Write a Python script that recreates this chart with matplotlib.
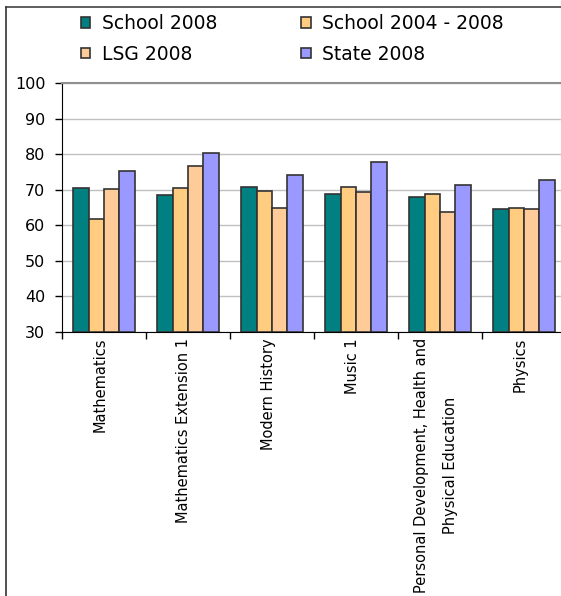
import matplotlib
matplotlib.use("Agg")
import matplotlib.pyplot as plt
import matplotlib.transforms as mtransforms
import numpy as np
from matplotlib.patches import Patch
from matplotlib.lines import Line2D

categories = ["Mathematics", "Mathematics Extension 1", "Modern History", "Music 1",
              "Personal Development, Health and\nPhysical Education", "Physics"]
series_names = ["School 2008", "School 2004 - 2008", "LSG 2008", "State 2008"]
school_2008 = [70.6, 68.4, 70.9, 68.8, 67.9, 64.5]
school_2004_2008 = [61.8, 70.6, 69.6, 70.9, 68.8, 64.9]
lsg_2008 = [70.1, 76.6, 64.9, 69.3, 63.7, 64.5]
state_2008 = [75.2, 80.4, 74.0, 77.9, 71.4, 72.7]
y_ticks = [30, 40, 50, 60, 70, 80, 90, 100]

colors = ["#008080", "#FFCC80", "#FFCC99", "#9999FF"]
edge = "#333333"

W, H = 561, 596
fig = plt.figure(figsize=(W / 100, H / 100), dpi=100)
plt.rcParams['font.family'] = ['DejaVu Sans']

ax = fig.add_axes([62 / W, (H - 332) / H, 504 / W, (332 - 83) / H])

x = np.arange(len(categories))
w = 1 / 5.5
all_series = [school_2008, school_2004_2008, lsg_2008, state_2008]
for i, (vals, c) in enumerate(zip(all_series, colors)):
    ax.bar(x + (i - 1.5) * w, np.array(vals) - 30, bottom=30, width=w, color=c,
           edgecolor=edge, linewidth=1.2, zorder=3)

ax.set_ylim(30, 100)
ax.set_xlim(-0.5, len(categories) - 0.5)
ax.set_yticks(y_ticks)
ax.tick_params(axis='y', labelsize=11.5, length=5, width=1, direction='out', pad=7)
ax.yaxis.grid(True, color="#c0c0c0", linewidth=1, zorder=0)
ax.set_axisbelow(True)

# category ticks at group boundaries, labels as texts under each group
ax.set_xticks(np.arange(-0.5, len(categories) + 0.5, 1))
ax.set_xticklabels([])
ax.tick_params(axis='x', length=5, width=1, direction='out')
label_tf = ax.get_xaxis_transform() + mtransforms.ScaledTranslation(
    -4 / 100, -6 / 100, fig.dpi_scale_trans)
for xi, cat in zip(x, categories):
    ax.text(xi, 0, cat, transform=label_tf, rotation=90, ha='center', va='top',
            fontsize=10.5, linespacing=2.2, multialignment='center')

ax.spines['right'].set_visible(False)
ax.spines['top'].set_color('#909090')
ax.spines['top'].set_linewidth(1.5)
ax.spines['left'].set_color('black')
ax.spines['bottom'].set_color('black')

order = [0, 2, 1, 3]
handles = [Patch(facecolor=colors[k], edgecolor=edge, linewidth=1.2) for k in order]
labels = [series_names[k] for k in order]
fig.legend(handles, labels, ncol=2, loc='upper left',
           bbox_to_anchor=(81 / W, 1 - 14 / H), frameon=False, fontsize=13.5,
           handlelength=0.5, handleheight=0.5, handletextpad=0.6,
           columnspacing=4.5, labelspacing=0.62, borderpad=0, borderaxespad=0)

# outer frame
fig.add_artist(Line2D([5.5 / W, 5.5 / W], [0, 1 - 7 / H], transform=fig.transFigure,
                      color='#222222', linewidth=1.1))
fig.add_artist(Line2D([5.5 / W, 1], [1 - 7 / H, 1 - 7 / H], transform=fig.transFigure,
                      color='#333333', linewidth=1.1))

fig.savefig("out.png", dpi=100)
